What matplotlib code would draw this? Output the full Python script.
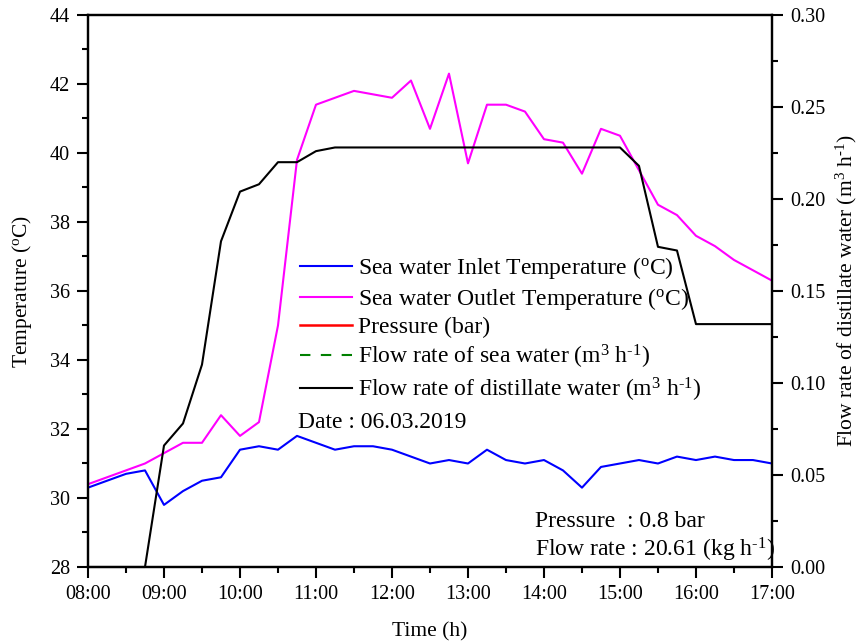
import numpy as np
import matplotlib
matplotlib.use("Agg")
import matplotlib.pyplot as plt
from matplotlib.ticker import MultipleLocator, FuncFormatter

plt.rcParams['font.family'] = ['Liberation Serif', 'DejaVu Serif']
plt.rcParams['mathtext.fontset'] = 'custom'
plt.rcParams['mathtext.rm'] = 'Liberation Serif'
plt.rcParams['mathtext.it'] = 'Liberation Serif:italic'

# measurement times (hh:mm)
times = ["08:00", "08:30", "08:45", "09:00", "09:15", "09:30", "09:45",
         "10:00", "10:15", "10:30", "10:45", "11:00", "11:15", "11:30", "11:45",
         "12:00", "12:15", "12:30", "12:45", "13:00", "13:15", "13:30", "13:45",
         "14:00", "14:15", "14:30", "14:45", "15:00", "15:15", "15:30", "15:45",
         "16:00", "16:15", "16:30", "16:45", "17:00"]

# sea water inlet temperature (oC)
t_inlet = [30.3, 30.7, 30.8, 29.8, 30.2, 30.5, 30.6,
           31.4, 31.5, 31.4, 31.8, 31.6, 31.4, 31.5, 31.5,
           31.4, 31.2, 31.0, 31.1, 31.0, 31.4, 31.1, 31.0,
           31.1, 30.8, 30.3, 30.9, 31.0, 31.1, 31.0, 31.2,
           31.1, 31.2, 31.1, 31.1, 31.0]

# sea water outlet temperature (oC)
t_outlet = [30.4, 30.8, 31.0, 31.3, 31.6, 31.6, 32.4,
            31.8, 32.2, 35.0, 39.8, 41.4, 41.6, 41.8, 41.7,
            41.6, 42.1, 40.7, 42.3, 39.7, 41.4, 41.4, 41.2,
            40.4, 40.3, 39.4, 40.7, 40.5, 39.5, 38.5, 38.2,
            37.6, 37.3, 36.9, 36.6, 36.3]

# distillate flow rate (m3/h)
q_dist = [0.0, 0.0, 0.0, 0.066, 0.078, 0.110, 0.177,
          0.204, 0.208, 0.220, 0.220, 0.226, 0.228, 0.228, 0.228,
          0.228, 0.228, 0.228, 0.228, 0.228, 0.228, 0.228, 0.228,
          0.228, 0.228, 0.228, 0.228, 0.228, 0.218, 0.174, 0.172,
          0.132, 0.132, 0.132, 0.132, 0.132]

hours = np.array([int(t[:2]) + int(t[3:]) / 60 for t in times])

INV = r'$^{\text{-1}}$'

fig = plt.figure(figsize=(8.61, 6.43), dpi=100)
ax1 = fig.add_axes([0.1022, 0.1182, 0.7944, 0.8585])
ax2 = ax1.twinx()

l1, = ax1.plot(hours, t_inlet, color='#0000ff', lw=1.5,
               label=r'Sea water Inlet Temperature ($^{\mathrm{o}}$C)')
l2, = ax1.plot(hours, t_outlet, color='#ff00ff', lw=1.5,
               label=r'Sea water Outlet Temperature ($^{\mathrm{o}}$C)')
l3, = ax2.plot([], [], color='#ff0000', lw=1.8, label='Pressure (bar)')
l4, = ax2.plot([], [], color='#008000', lw=1.5, ls=(0, (5, 5)),
               label=r'Flow rate of sea water (m$^3$ h' + INV + ')')
l5, = ax2.plot(hours, q_dist, color='black', lw=1.5, clip_on=False,
               label=r'Flow rate of distillate water (m$^3$ h' + INV + ')')

ax1.set_xlim(8, 17)
ax1.set_ylim(28, 44)
ax2.set_ylim(0, 0.30)

ax1.xaxis.set_major_locator(MultipleLocator(1))
ax1.xaxis.set_minor_locator(MultipleLocator(0.5))
ax1.xaxis.set_major_formatter(FuncFormatter(lambda v, p: f"{int(round(v)):02d}:00"))
ax1.yaxis.set_major_locator(MultipleLocator(2))
ax1.yaxis.set_minor_locator(MultipleLocator(1))
ax2.yaxis.set_major_locator(MultipleLocator(0.05))
ax2.yaxis.set_minor_locator(MultipleLocator(0.025))
ax2.yaxis.set_major_formatter(FuncFormatter(lambda v, p: f"{v:.2f}"))

for ax in (ax1, ax2):
    ax.tick_params(which='major', direction='out', length=8, width=1.5,
                   labelsize=14.5, pad=5)
    ax.tick_params(which='minor', direction='out', length=4.5, width=1.5)
    for s in ax.spines.values():
        s.set_linewidth(1.6)
ax1.tick_params(axis='x', top=False)

ax1.set_xlabel('Time (h)', fontsize=15.5, labelpad=13)
ax1.set_ylabel(r'Temperature ($^{\mathrm{o}}$C)', fontsize=15.5, labelpad=11)
ax2.set_ylabel(r'Flow rate of distillate water (m$^3$ h' + INV + ')',
               fontsize=15.5, labelpad=6)

ax1.legend(handles=[l1, l2, l3, l4, l5], loc='upper left',
           bbox_to_anchor=(0.31, 0.565), frameon=False, fontsize=17,
           handlelength=2.2, handletextpad=0.25, labelspacing=0.2,
           borderpad=0, borderaxespad=0)

ax1.text(0.307, 0.262, 'Date : 06.03.2019', transform=ax1.transAxes,
         fontsize=17, va='center', ha='left')
ax1.text(0.6535, 0.083, 'Pressure  : 0.8 bar', transform=ax1.transAxes,
         fontsize=17, va='center', ha='left')
ax1.text(0.6535, 0.031, 'Flow rate : 20.61 (kg h' + INV + ')',
         transform=ax1.transAxes, fontsize=17, va='center', ha='left')

fig.savefig('out.png', dpi=100)
